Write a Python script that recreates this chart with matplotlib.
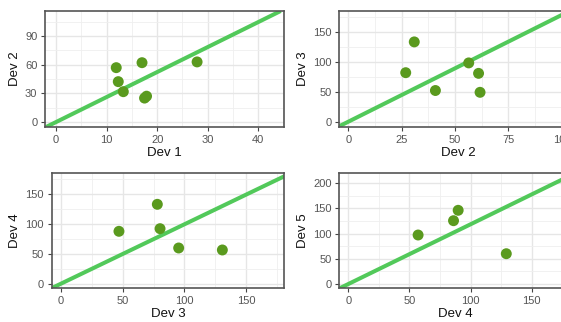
import matplotlib
matplotlib.use("Agg")
import matplotlib.pyplot as plt
from matplotlib.ticker import MultipleLocator

plt.rcParams['font.family'] = ['Liberation Sans', 'DejaVu Sans']

# Paired development values (x: earlier period, y: following period)
dev1 = [11.9, 12.3, 13.3, 17.0, 17.5, 17.9, 27.9]
dev2 = [56.8, 42.2, 31.7, 62.0, 25.0, 27.0, 62.8]

dev2_b = [26.9, 30.9, 40.8, 56.4, 61.0, 61.7]
dev3 = [81.7, 133.0, 52.0, 98.0, 80.6, 49.0]

dev3_b = [47.0, 78.1, 80.3, 95.4, 130.8]
dev4 = [87.3, 132.3, 91.7, 59.5, 56.2]

dev4_b = [57.1, 86.1, 89.9, 129.3]
dev5 = [97.2, 125.6, 146.2, 60.1]

panels = [
    dict(x=dev1, y=dev2, xlab="Dev 1", ylab="Dev 2", xlim=(-2.2, 45.1), ylim=(-5.2, 116),
         xmaj=10, ymaj=30, rect=[45/561, 1-127/322, 239/561, 116/322]),
    dict(x=dev2_b, y=dev3, xlab="Dev 2", ylab="Dev 3", xlim=(-4.2, 107.7), ylim=(-8.8, 184.5),
         xmaj=25, ymaj=50, rect=[339.3/561, 1-127/322, 239/561, 116/322]),
    dict(x=dev3_b, y=dev4, xlab="Dev 3", ylab="Dev 4", xlim=(-7.5, 181), ylim=(-7.7, 184),
         xmaj=50, ymaj=50, rect=[51.7/561, 1-288.3/322, 232.6/561, 115/322]),
    dict(x=dev4_b, y=dev5, xlab="Dev 4", ylab="Dev 5", xlim=(-7.4, 183), ylim=(-8.5, 219.6),
         xmaj=50, ymaj=50, rect=[339.3/561, 1-288.3/322, 232.6/561, 115/322]),
]

fig = plt.figure(figsize=(5.61, 3.22), dpi=100)

for p in panels:
    ax = fig.add_axes(p["rect"])
    ax.set_xlim(*p["xlim"])
    ax.set_ylim(*p["ylim"])
    ax.xaxis.set_major_locator(MultipleLocator(p["xmaj"]))
    ax.yaxis.set_major_locator(MultipleLocator(p["ymaj"]))
    ax.xaxis.set_minor_locator(MultipleLocator(p["xmaj"] / 2))
    ax.yaxis.set_minor_locator(MultipleLocator(p["ymaj"] / 2))
    ax.grid(which="major", color="#e6e6e6", linewidth=1.0, zorder=0)
    ax.grid(which="minor", color="#efefef", linewidth=0.6, zorder=0)
    ax.set_axisbelow(True)
    ax.tick_params(which="minor", length=0)
    ax.tick_params(which="major", length=3, width=0.8, color="#444444",
                   labelsize=8, labelcolor="#555555", pad=2.5)
    for s in ax.spines.values():
        s.set_color("#555555")
        s.set_linewidth(1.2)
    ax.set_xlabel(p["xlab"], fontsize=9.5, color="#111111", labelpad=1.5)
    ax.set_ylabel(p["ylab"], fontsize=9.5, color="#111111", labelpad=3)

    # chain-ladder style link ratio through the origin
    slope = sum(p["y"]) / sum(p["x"])
    ax.axline((0, 0), slope=slope, color="#52c95a", linewidth=2.9, zorder=2,
              solid_capstyle="butt")
    ax.scatter(p["x"], p["y"], s=62, color="#5a9a1e", edgecolor="none", zorder=3)

fig.savefig("out.png", dpi=100)
